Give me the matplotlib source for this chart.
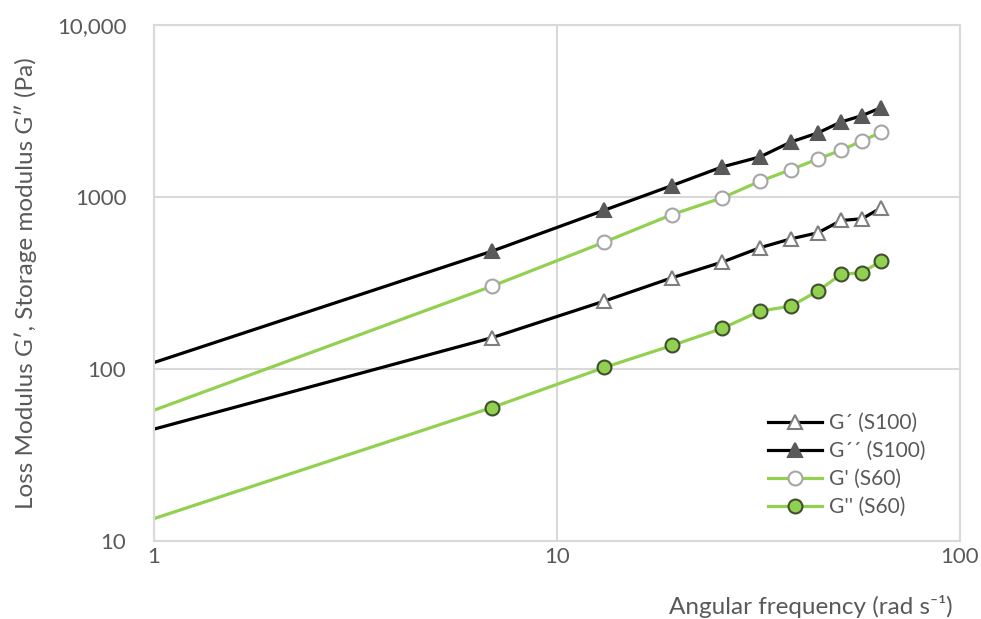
import numpy as np
import matplotlib
matplotlib.use('Agg')
import matplotlib.pyplot as plt
from matplotlib import ticker

plt.rcParams['font.family'] = ['Lato', 'DejaVu Sans']

# angular frequency (rad/s); first point at 1 has no marker in the original
freq = [1, 6.9, 13.1, 19.3, 25.7, 31.9, 38.1, 44.4, 50.7, 57.1, 63.7]

g1_s100 = [44.7, 152, 248, 339, 418, 507, 571, 619, 730, 746, 864]
g2_s100 = [109, 484, 837, 1165, 1495, 1709, 2089, 2355, 2729, 2967, 3304]
g1_s60 = [57.6, 303, 546, 790, 988, 1234, 1442, 1664, 1867, 2117, 2375]
g2_s60 = [13.5, 59.7, 102, 137, 172, 217, 232, 284, 355, 363, 424]

labels = ['G\u00b4 (S100)', 'G\u00b4\u00b4 (S100)', "G' (S60)", "G'' (S60)"]

green = '#92d050'
grid_c = '#d9d9d9'
text_c = '#595959'

fig = plt.figure(figsize=(9.81, 6.19), dpi=100)
ax = fig.add_axes([0.157, 0.126, 0.8216, 0.8338])

mk = dict(markevery=list(range(1, len(freq))), markersize=10, markeredgewidth=1.5, lw=2.3)

ax.plot(freq, g1_s100, color='black', marker='^', markerfacecolor='white',
        markeredgecolor='#7f7f7f', label=labels[0], **mk)
ax.plot(freq, g2_s100, color='black', marker='^', markerfacecolor='#595959',
        markeredgecolor='#595959', label=labels[1], **mk)
ax.plot(freq, g1_s60, color=green, marker='o', markerfacecolor='white',
        markeredgecolor='#a6a6a6', label=labels[2], **mk)
ax.plot(freq, g2_s60, color=green, marker='o', markerfacecolor=green,
        markeredgecolor='#3f4f2f', label=labels[3], **mk)

ax.set_xscale('log')
ax.set_yscale('log')
ax.set_xlim(1, 100)
ax.set_ylim(10, 10000)

ax.xaxis.set_major_locator(ticker.FixedLocator([1, 10, 100]))
ax.xaxis.set_minor_locator(ticker.NullLocator())
ax.yaxis.set_major_locator(ticker.FixedLocator([10, 100, 1000, 10000]))
ax.yaxis.set_minor_locator(ticker.NullLocator())
ax.xaxis.set_major_formatter(ticker.FixedFormatter(['1', '10', '100']))
ax.yaxis.set_major_formatter(ticker.FixedFormatter(['10', '100', '1000', '10,000']))

ax.tick_params(length=0, labelsize=16, labelcolor=text_c)
ax.tick_params(axis='y', pad=20)
ax.tick_params(axis='x', pad=4)
ax.grid(True, color=grid_c, lw=1.5)
ax.set_axisbelow(True)
for s in ax.spines.values():
    s.set_color(grid_c)
    s.set_linewidth(1.5)

ax.set_xlabel('Angular frequency (rad s\u207b\u00b9)', fontsize=17.5, color=text_c,
              loc='right', labelpad=22)
ax.xaxis.set_label_coords(0.991, -0.105)
ax.set_ylabel('Loss Modulus G\u2032, Storage modulus G\u2033 (Pa)', fontsize=17.5,
              color=text_c, labelpad=14)

leg = ax.legend(loc='lower right', bbox_to_anchor=(0.98, 0.01), frameon=False,
                fontsize=15, handlelength=2.6, handletextpad=0.3, labelspacing=0.38)
for t in leg.get_texts():
    t.set_color(text_c)

fig.savefig('out.png', dpi=100)
